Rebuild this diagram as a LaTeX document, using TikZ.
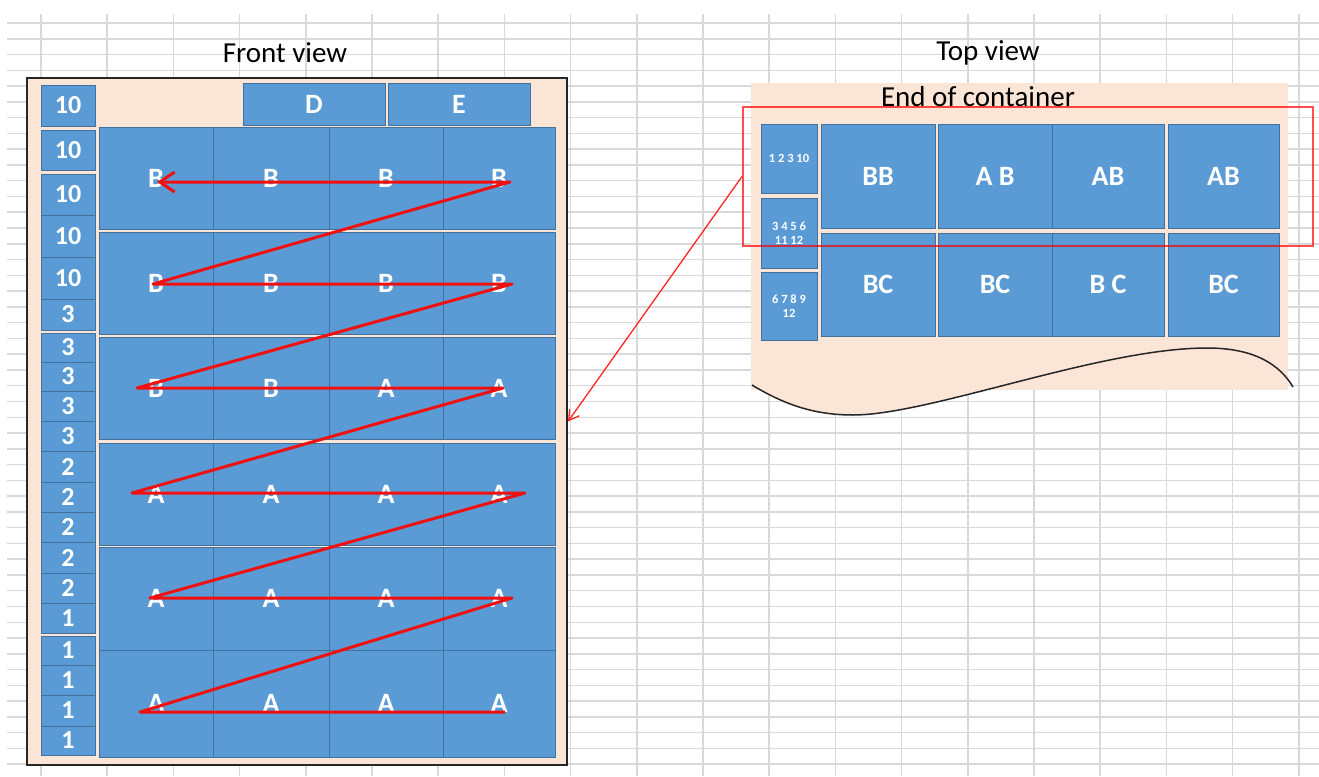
\documentclass[tikz,border=0pt]{standalone}
\usepackage{fontspec}
\setmainfont{Carlito}
\usetikzlibrary{arrows.meta}
\definecolor{peach}{HTML}{FBE5D6}
\definecolor{boxfill}{HTML}{5B9BD5}
\definecolor{boxline}{HTML}{41719C}
\definecolor{gridc}{HTML}{D9D9D9}
\definecolor{zigred}{HTML}{F01010}
\newcommand\bx[7][]{\node[cellsty,#1,minimum width={#5-#3},minimum height={#6-#4}] (#2) at ({(#3+#5)/2},{(#4+#6)/2}) {#7};}
\begin{document}
\begin{tikzpicture}[x=1pt,y=-1pt,
  cellsty/.style={draw=boxline,fill=boxfill,line width=1pt,text=white,inner sep=0pt,outer sep=0pt,
    font=\bfseries\fontsize{28}{30}\selectfont},
  numsty/.style={font=\bfseries\fontsize{26}{28}\selectfont},
  smallsty/.style={align=center,font=\bfseries\fontsize{12.5}{14}\selectfont},
  titlesty/.style={inner sep=0pt,font=\fontsize{29}{31}\selectfont},
  gridsty/.style={draw=gridc,line width=1.5pt},
  zigsty/.style={draw=zigred,line width=3pt,line join=round,-{Straight Barb[length=15pt,width=20pt,line width=3pt]}},
  linksty/.style={draw=red!85!white,line width=1.3pt,-{Straight Barb[length=10pt,width=12pt,line width=1.3pt]}},
  curvesty/.style={draw=black!85,line width=1.5pt}]
\useasboundingbox (0,0) rectangle (1319,776);
\fill[white] (0,0) rectangle (1319,776);
% spreadsheet grid
\foreach \i in {0,...,47} \draw[gridsty] (7,{23+15.77*\i}) -- (1319,{23+15.77*\i});
\foreach \i in {0,...,19} \draw[gridsty] ({41+66.2*\i},14) -- ({41+66.2*\i},776);
% titles
\node[titlesty] (tfront) at (285,53) {Front view};
\node[titlesty] (ttop) at (988,53) {Top view};
% front view frame
\node[draw=black!85,line width=2pt,fill=peach,minimum width=540,minimum height=687,inner sep=0pt] (fv) at (297,421.5) {};
% top view container
\fill[peach] (751,83) rectangle (1288,390);
\fill[peach] (752,385) .. controls (785,405) and (815,415) .. (853,415) .. controls (930,415) and (1100,348) .. (1207,348) -- (1207,330) -- (752,330) -- cycle;
\draw[curvesty] (752,385) .. controls (785,405) and (815,415) .. (853,415) .. controls (930,415) and (1100,348) .. (1207,348) .. controls (1255,348) and (1280,365) .. (1293,387);
\node[titlesty] (tend) at (978,97) {End of container};
% number column
\bx[numsty]{n1}{41}{85}{95}{126}{10}
\bx[numsty]{n2}{41}{130}{95}{170}{10}
\bx[numsty]{n3}{41}{174}{95}{215}{10}
\bx[numsty]{n4}{41}{215}{95}{257}{10}
\bx[numsty]{n5}{41}{257}{95}{299}{10}
\bx[numsty]{n6}{41}{299}{95}{330}{3}
\bx[numsty]{n7}{41}{333}{95}{362}{3}
\bx[numsty]{n8}{41}{362}{95}{391}{3}
\bx[numsty]{n9}{41}{391}{95}{421}{3}
\bx[numsty]{n10}{41}{421}{95}{451}{3}
\bx[numsty]{n11}{41}{451}{95}{482}{2}
\bx[numsty]{n12}{41}{482}{95}{512}{2}
\bx[numsty]{n13}{41}{512}{95}{542}{2}
\bx[numsty]{n14}{41}{542}{95}{573}{2}
\bx[numsty]{n15}{41}{573}{95}{603}{2}
\bx[numsty]{n16}{41}{603}{95}{633}{1}
\bx[numsty]{n17}{41}{636}{95}{665}{1}
\bx[numsty]{n18}{41}{665}{95}{695}{1}
\bx[numsty]{n19}{41}{695}{95}{726}{1}
\bx[numsty]{n20}{41}{726}{95}{755}{1}
% D and E
\bx{d}{243}{83}{385}{125}{D}
\bx{e}{388}{83}{530}{125}{E}
% front cells
\bx{r1a}{99}{127}{213}{229}{B}
\bx{r1b}{213}{127}{329}{229}{B}
\bx{r1c}{329}{127}{443}{229}{B}
\bx{r1d}{443}{127}{555}{229}{B}
\bx{r2a}{99}{232}{213}{334}{B}
\bx{r2b}{213}{232}{329}{334}{B}
\bx{r2c}{329}{232}{443}{334}{B}
\bx{r2d}{443}{232}{555}{334}{B}
\bx{r3a}{99}{337}{213}{439}{B}
\bx{r3b}{213}{337}{329}{439}{B}
\bx{r3c}{329}{337}{443}{439}{A}
\bx{r3d}{443}{337}{555}{439}{A}
\bx{r4a}{99}{443}{213}{545}{A}
\bx{r4b}{213}{443}{329}{545}{A}
\bx{r4c}{329}{443}{443}{545}{A}
\bx{r4d}{443}{443}{555}{545}{A}
\bx{r5a}{99}{547}{213}{650}{A}
\bx{r5b}{213}{547}{329}{650}{A}
\bx{r5c}{329}{547}{443}{650}{A}
\bx{r5d}{443}{547}{555}{650}{A}
\bx{r6a}{99}{650}{213}{757}{A}
\bx{r6b}{213}{650}{329}{757}{A}
\bx{r6c}{329}{650}{443}{757}{A}
\bx{r6d}{443}{650}{555}{757}{A}
% top view cells
\bx[smallsty]{s1}{761}{124}{817}{193}{1 2 3 10}
\bx[smallsty]{s2}{761}{198}{817}{268}{3 4 5 6\\11 12}
\bx[smallsty]{s3}{761}{272}{817}{340}{6 7 8 9\\12}
\bx{t1a}{821}{124}{935}{228}{BB}
\bx{t1b}{938}{124}{1052}{228}{A B}
\bx{t1c}{1052}{124}{1164}{228}{AB}
\bx{t1d}{1168}{124}{1279}{228}{AB}
\bx{t2a}{821}{233}{935}{336}{BC}
\bx{t2b}{938}{233}{1052}{336}{BC}
\bx{t2c}{1052}{233}{1164}{336}{B C}
\bx{t2d}{1168}{233}{1279}{336}{BC}
% highlight rectangle and link
\node[draw=red,draw opacity=0.7,line width=2pt,minimum width=570,minimum height=139,inner sep=0pt] (rb) at (1028,176.5) {};
\draw[linksty] (rb.west) -- (fv.east);
% zigzag
\coordinate (z0) at (505,712);
\coordinate (z1) at (140,712);
\coordinate (z2) at (512,598);
\coordinate (z3) at (150,598);
\coordinate (z4) at (525,493);
\coordinate (z5) at (132,493);
\coordinate (z6) at (503,388);
\coordinate (z7) at (137,388);
\coordinate (z8) at (512,284);
\coordinate (z9) at (153,284);
\coordinate (z10) at (510,182);
\coordinate (z11) at (157,182);
\draw[zigsty] (z0) -- (z1) -- (z2) -- (z3) -- (z4) -- (z5) -- (z6) -- (z7) -- (z8) -- (z9) -- (z10) -- (z11);
\end{tikzpicture}
\end{document}
